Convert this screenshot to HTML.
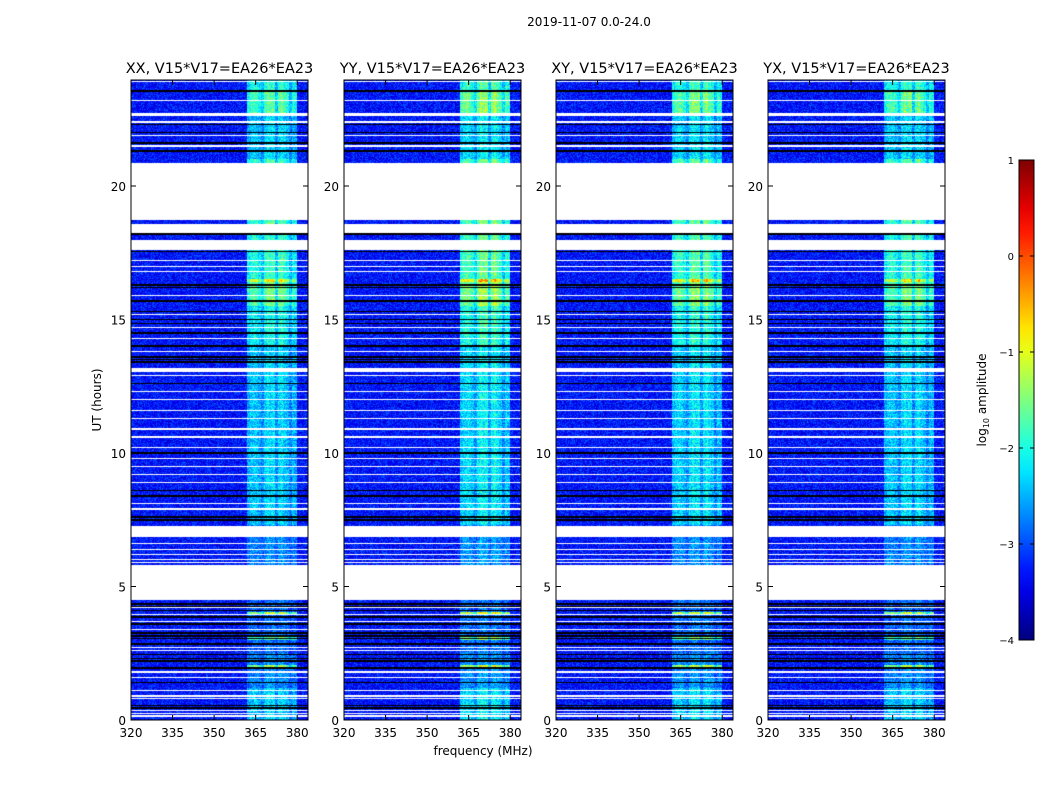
<!DOCTYPE html>
<html><head><meta charset="utf-8">
<style>
body{margin:0;background:#fff;width:1050px;height:800px;overflow:hidden;font-family:"DejaVu Sans","Liberation Sans",sans-serif;}
#root{position:relative;width:1050px;height:800px;}
</style></head>
<body><div id="root">
<svg id="svg" width="1050" height="800" style="position:absolute;left:0;top:0"></svg>
</div>
<script>
// ---- data ----
const panelTitles = ["XX, V15*V17=EA26*EA23","YY, V15*V17=EA26*EA23","XY, V15*V17=EA26*EA23","YX, V15*V17=EA26*EA23"];
const panelGain = [1.0, 1.15, 1.08, 1.02];
const yTicks = [0,5,10,15,20];
const xTicks = [320,335,350,365,380];
const cbTicks = [1,0,-1,-2,-3,-4];
const bgLevel = -3.3;
// band level segments [startHour, endHour, peakLog10]
const bandSegStart = [0,1.2,2.5,5.8,7.3,14,15.5,16.5,18.3,21,22.7,23.6];
const bandSegEnd   = [1.2,2.5,5.8,7.3,14,15.5,16.5,18.3,21,22.7,23.6,24];
const bandSegLevel = [-2.2,-2.6,-2.8,-2.6,-2.2,-1.9,-1.4,-1.7,-1.6,-2.2,-1.5,-1.8];
// bright spike rows [hour, level]
const spikeHours = [2.0,3.05,4.0,16.45];
const spikeLevels = [-1.1,-1.4,-1.0,-0.6];
// blank (flagged) blocks
const blankStart = [22.62,18.73,18.24,17.6,13.03,6.85,4.49];
const blankEnd   = [22.74,20.86,18.57,17.98,13.18,7.27,5.8];
const blackLines = [23.55,22.3,22.0,21.6,21.3,18.2,17.55,16.3,16.2,15.7,15.3,15.0,14.85,14.5,14.0,13.6,13.5,13.4,12.6,10.0,8.6,8.4,7.6,7.5,4.35,4.25,4.1,3.85,3.6,3.25,3.15,3.05,2.85,2.45,2.3,2.2,1.95,1.4,0.55,0.45];
const whiteLines = [23.9,23.2,22.4,21.9,21.5,17.2,17.0,16.8,15.9,15.2,14.7,14.3,13.8,12.9,12.3,12.0,11.6,11.3,10.9,10.6,10.2,9.8,9.5,9.2,8.9,8.1,7.9,6.6,6.4,6.2,6.0,5.9,4.2,3.95,3.7,3.4,2.7,2.6,1.8,1.6,1.1,0.9,0.8,0.35,0.25,0.15];
// frequency channels 320..383 MHz, band weight (0 = background)
const freqChannels = Array.from({length:64},(_,i)=>320+i);
const freqWeight = [0,0,0,0,0,0,0,0,0,0,0,0,0,0,0,0,0,0,0,0,0,0,0,0,0,0,0,0,0,0,0,0,0,0,0,0,0,0,0,0,0,0,0.7,0.8,0.85,0.8,0.7,0.55,0.85,1.0,0.9,0.95,0.55,0.9,1.0,0.85,0.75,0.5,0.75,0.7,0,0,0,0];

// ---- layout ----
const panelX = [131,344,556,768], pw=177, py0=80, py1=720;
const xS = f => 131 + (f-320)*2.77;
const yS = h => 720 - h*26.7;
const cbY = v => 160 + (1-v)*96;

function jet(t){
  t=Math.max(0,Math.min(1,t));
  const r=Math.max(0,Math.min(1,Math.min(4*t-1.5,-4*t+4.5)));
  const g=Math.max(0,Math.min(1,Math.min(4*t-0.5,-4*t+3.5)));
  const b=Math.max(0,Math.min(1,Math.min(4*t+0.5,-4*t+2.5)));
  return [r*255|0,g*255|0,b*255|0];
}
function hash(a,b){let h=(a*374761393+b*668265263)|0;h=(h^(h>>>13))*1274126177|0;return ((h^(h>>>16))>>>0)/4294967296;}
function rowInfo(h){
  for(let i=0;i<blankStart.length;i++) if(h>=blankStart[i]&&h<blankEnd[i]) return 'w';
  for(const b of blackLines) if(Math.abs(h-b)<0.03) return 'k';
  for(const w of whiteLines) if(Math.abs(h-w)<0.022) return 'w';
  return null;
}
function bandAt(h){
  for(let i=0;i<spikeHours.length;i++) if(Math.abs(h-spikeHours[i])<0.05) return spikeLevels[i];
  for(let i=0;i<bandSegStart.length;i++) if(h>=bandSegStart[i]&&h<bandSegEnd[i]) return bandSegLevel[i];
  return bgLevel;
}

const NS="http://www.w3.org/2000/svg";
const svg=document.getElementById('svg');
function mk(tag,attrs,parent){const e=document.createElementNS(NS,tag);for(const k in attrs)e.setAttribute(k,attrs[k]);(parent||svg).appendChild(e);return e;}
function txt(x,y,s,size,anchor,parent){const t=mk('text',{x:x,y:y,'font-size':size,'text-anchor':anchor||'middle','font-family':'DejaVu Sans, Liberation Sans, sans-serif',fill:'#000'},parent);t.textContent=s;return t;}

const sup=txt(589,26,"2019-11-07 0.0-24.0",12);



panelX.forEach((px,pi)=>{
  const g=mk('g',{});
  
  
  const cv=document.createElement('canvas');cv.width=pw;cv.height=640;
  const ctx=cv.getContext('2d');const im=ctx.createImageData(pw,640);
  for(let y=0;y<640;y++){
    const h=(640-y-0.5)/26.7;
    const ri=rowInfo(h);
    const band=bandAt(h);
    for(let x=0;x<pw;x++){
      const f=320+(x+0.5)/2.77;
      const ci=Math.min(63,Math.floor(f-320));
      let o=(y*pw+x)*4,c;
      if(ri==='w') c=[255,255,255];
      else if(ri==='k') c=[0,0,0];
      else{
        const w=freqWeight[ci];
        let v=bgLevel;
        if(w>0) v=bgLevel+(band-bgLevel)*w*panelGain[pi];
        v+= (hash(x+pi*1000,y)-0.5)*0.8;
        c=jet((v+4)/5);
      }
      im.data[o]=c[0];im.data[o+1]=c[1];im.data[o+2]=c[2];im.data[o+3]=255;
    }
  }
  ctx.putImageData(im,0,0);
  const img=mk('image',{x:px,y:py0,width:pw,height:640,preserveAspectRatio:'none'},g);
  img.setAttribute('href',cv.toDataURL());
  
  
  const fr=mk('rect',{x:px,y:py0,width:pw,height:640,fill:'none',stroke:'#000','stroke-width':1},g);
  
  
  const t=txt(px+pw/2,73,panelTitles[pi],14.5,'middle',g);
  
  
  yTicks.forEach(v=>{
    const y=yS(v);
    mk('line',{x1:px,x2:px+5,y1:y,y2:y,stroke:'#000'},g);
    mk('line',{x1:px+pw-5,x2:px+pw,y1:y,y2:y,stroke:'#000'},g);
    const l=txt(px-5,y+5,String(v),12,'end',g);
    
    
  });
  xTicks.forEach(v=>{
    const x=xS(v)-131+px;
    mk('line',{x1:x,x2:x,y1:py1,y2:py1-5,stroke:'#000'},g);
    mk('line',{x1:x,x2:x,y1:py0,y2:py0+5,stroke:'#000'},g);
    const l=txt(x,737,String(v),12,'middle',g);
    
    
  });
});
const xl=txt(483,755,"frequency (MHz)",12);


const yl=txt(0,0,"UT (hours)",12);
yl.setAttribute('transform','translate(101,400) rotate(-90)');



const cg=mk('g',{});


const defs=mk('defs',{});
const lg=mk('linearGradient',{id:'jetg',x1:0,y1:1,x2:0,y2:0},defs);
for(let i=0;i<=20;i++){const c=jet(i/20);mk('stop',{offset:i/20,'stop-color':`rgb(${c[0]},${c[1]},${c[2]})`},lg);}
mk('rect',{x:1019,y:160,width:15,height:480,fill:'url(#jetg)',stroke:'#000','stroke-width':1},cg);
cbTicks.forEach(v=>{
  const y=cbY(v);
  mk('line',{x1:1019,x2:1023,y1:y,y2:y,stroke:'#000'},cg);
  mk('line',{x1:1030,x2:1034,y1:y,y2:y,stroke:'#000'},cg);
  const l=txt(1014,y+4,v<0?'\u2212'+(-v):String(v),10,'end',cg);
  
  
});
const cl=mk('text',{transform:'translate(986,400) rotate(-90)','font-size':12,'text-anchor':'middle','font-family':'DejaVu Sans, Liberation Sans, sans-serif'},cg);
cl.innerHTML='log<tspan font-size="8" dy="3">10</tspan><tspan dy="-3"> amplitude</tspan>';


</script>
</body></html>
